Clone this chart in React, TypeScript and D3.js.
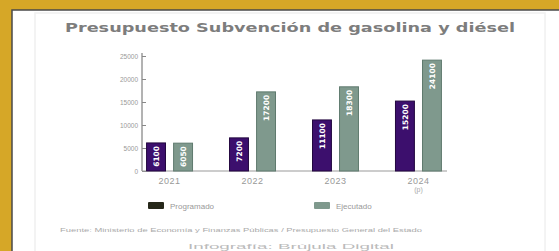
import React, { useEffect, useRef } from 'react';
import * as d3 from 'd3';

const years = ['2021', '2022', '2023', '2024'];
const yearSub = ['', '', '', '(p)'];
const series = ['Programado', 'Ejecutado'];
const programado = [6100, 7200, 11100, 15200];
const ejecutado = [6050, 17200, 18300, 24100];
const yTicks = [0, 5000, 10000, 15000, 20000, 25000];

const colors = ['#3c0f6d', '#7f998d'];
const strokes = ['#22073f', '#5f7a6e'];

const App = () => {
  const svgRef = useRef<SVGSVGElement>(null);

  useEffect(() => {
    const svg = d3.select(svgRef.current);
    svg.selectAll('*').remove();

    // marco
    svg.append('rect').attr('x', 0).attr('y', 0).attr('width', 559).attr('height', 251).attr('fill', '#d6a727');
    svg.append('rect').attr('x', 12).attr('y', 10).attr('width', 560).attr('height', 260)
      .attr('fill', '#ffffff').attr('stroke', '#4a4a4a').attr('stroke-width', 1.5);
    svg.append('rect').attr('x', 35).attr('y', 13).attr('width', 510).attr('height', 250)
      .attr('fill', 'none').attr('stroke', '#f0f0f0').attr('stroke-width', 1.5);

    svg.append('text')
      .attr('x', 290).attr('y', 32)
      .attr('text-anchor', 'middle')
      .attr('font-family', 'DejaVu Sans')
      .attr('font-weight', 'bold')
      .attr('font-size', 13)
      .attr('textLength', 450)
      .attr('lengthAdjust', 'spacingAndGlyphs')
      .attr('fill', '#7d7d7d')
      .text('Presupuesto Subvención de gasolina y diésel');

    const x0 = d3.scaleBand().domain(years).range([142, 446]).paddingInner(0.446).paddingOuter(0.055);
    const x1 = d3.scaleBand().domain(series).range([0, x0.bandwidth()]).paddingInner(0.3);
    const y = d3.scaleLinear().domain([0, 25000]).range([171, 56]);

    const g = svg.append('g');

    // eje y
    const yAxis = g.append('g').attr('transform', 'translate(142,0)')
      .call(d3.axisLeft(y).tickValues(yTicks).tickSize(-4).tickPadding(4).tickFormat(d3.format('d')));
    yAxis.select('.domain').attr('stroke', '#666').attr('d', `M0,${y(25000) - 3}V${y(0)}`);
    yAxis.selectAll('.tick line').attr('stroke', '#888');
    yAxis.selectAll('.tick text').attr('fill', '#999').attr('font-size', 6.5).attr('font-family', 'Liberation Sans');

    // eje x
    g.append('line').attr('x1', 142).attr('x2', 447).attr('y1', y(0)).attr('y2', y(0))
      .attr('stroke', '#999').attr('stroke-width', 1);

    const vals = [programado, ejecutado];
    years.forEach((yr, i) => {
      series.forEach((s, j) => {
        const v = vals[j][i];
        const bx = (x0(yr) as number) + (x1(s) as number);
        g.append('rect')
          .attr('x', bx).attr('y', y(v))
          .attr('width', x1.bandwidth()).attr('height', y(0) - y(v))
          .attr('fill', colors[j]).attr('stroke', strokes[j]).attr('stroke-width', 1);
        const cx = bx + x1.bandwidth() / 2;
        g.append('text')
          .attr('transform', `translate(${cx + 3},${y(v) + 3}) rotate(-90)`)
          .attr('text-anchor', 'end')
          .attr('font-family', 'DejaVu Sans')
          .attr('font-weight', 'bold')
          .attr('font-size', 7.5)
          .attr('fill', '#ffffff')
          .text(String(v));
      });
      const cx = (x0(yr) as number) + x0.bandwidth() / 2;
      g.append('text').attr('x', cx).attr('y', 184).attr('text-anchor', 'middle')
        .attr('font-family', 'Liberation Sans').attr('font-size', 9).attr('fill', '#999')
        .attr('letter-spacing', 0.5).text(yr);
      if (yearSub[i]) {
        g.append('text').attr('x', cx).attr('y', 192).attr('text-anchor', 'middle')
          .attr('font-family', 'Liberation Sans').attr('font-size', 7).attr('fill', '#aaa').text(yearSub[i]);
      }
    });

    // leyenda
    const legendX = [148, 314];
    series.forEach((s, j) => {
      svg.append('rect').attr('x', legendX[j]).attr('y', 202).attr('width', 16).attr('height', 7)
        .attr('fill', j === 0 ? '#26281a' : colors[j]).attr('rx', 1);
      svg.append('text').attr('x', legendX[j] + 22).attr('y', 209)
        .attr('font-family', 'Liberation Sans').attr('font-size', 8).attr('fill', '#999').text(s);
    });

    svg.append('text').attr('x', 60).attr('y', 232)
      .attr('font-family', 'Liberation Sans').attr('font-size', 6).attr('fill', '#aaa')
      .attr('textLength', 362).attr('lengthAdjust', 'spacingAndGlyphs')
      .text('Fuente: Ministerio de Economía y Finanzas Públicas / Presupuesto General del Estado');

    svg.append('text').attr('x', 291).attr('y', 249).attr('text-anchor', 'middle')
      .attr('font-family', 'Liberation Sans').attr('font-size', 7.5).attr('fill', '#bbb')
      .attr('textLength', 206).attr('lengthAdjust', 'spacingAndGlyphs')
      .text('Infografía: Brújula Digital');
  }, []);

  return (
    <svg ref={svgRef} width={559} height={251}
      style={{ position: 'absolute', left: 0, top: 0, display: 'block' }} />
  );
};

export default App;
